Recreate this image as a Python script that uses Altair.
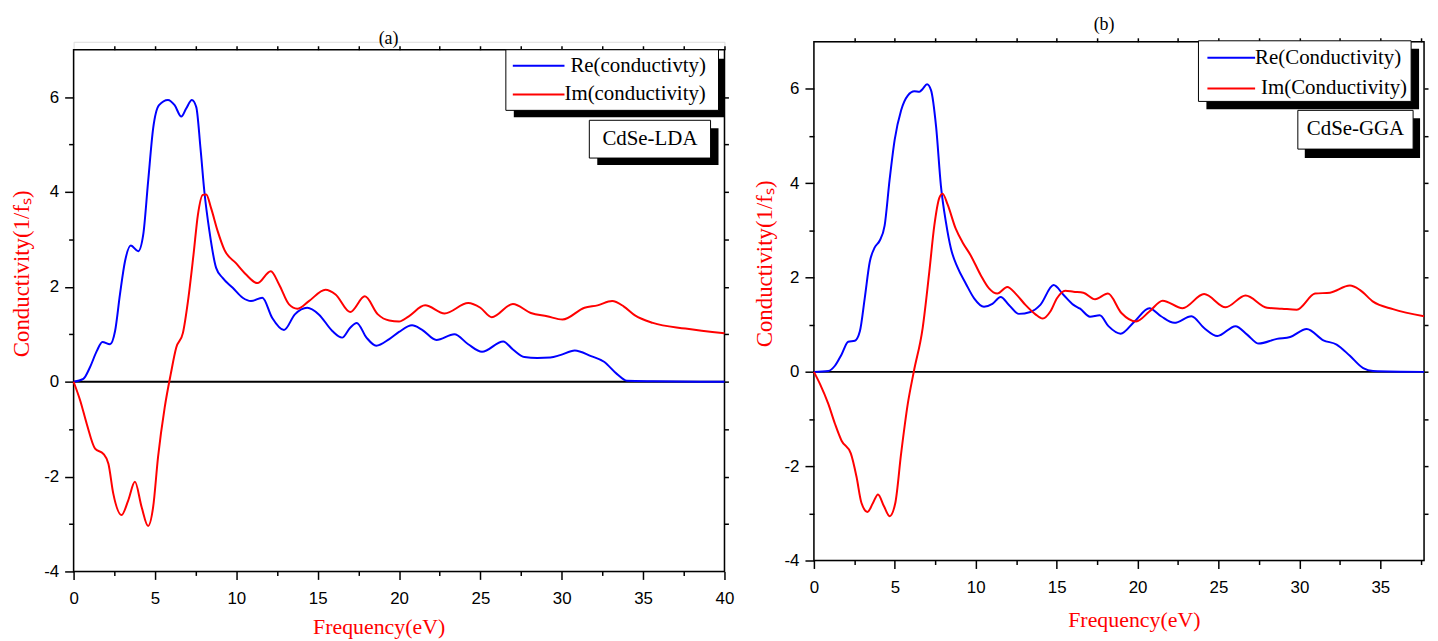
import altair as alt
import pandas as pd

SERIF = "Liberation Serif"
SANS = "Liberation Sans"

# ---------------- data ----------------
# Panel (a) CdSe-LDA
A_RE_E = [0, 0.6, 1.0, 1.43, 1.77, 2.24, 2.55, 2.85, 3.16, 3.52, 3.97, 4.28, 4.58, 4.89, 5.25, 5.8,
          6.21, 6.62, 6.92, 7.27, 7.54, 7.8, 8.04, 8.35, 8.76, 9.16, 9.78, 10.39, 10.9, 11.6, 12.2,
          12.93, 13.6, 14.36, 15.07, 15.9, 16.5, 17.0, 17.4, 18.0, 18.6, 19.4, 20.0, 20.8, 21.4,
          22.3, 23.4, 24.25, 25.1, 26.4, 27.0, 27.7, 28.5, 29.3, 29.9, 30.8, 31.8, 32.6, 33.4,
          34.0, 35.6, 40.0]
A_RE_V = [0, 0.06, 0.3, 0.65, 0.84, 0.79, 1.07, 1.84, 2.54, 2.87, 2.75, 3.1, 4.22, 5.34, 5.83, 5.94,
          5.83, 5.59, 5.76, 5.94, 5.79, 4.92, 4.0, 3.17, 2.4, 2.19, 1.98, 1.77, 1.7, 1.77, 1.35,
          1.09, 1.42, 1.56, 1.42, 1.07, 0.93, 1.14, 1.24, 0.93, 0.76, 0.9, 1.05, 1.19, 1.10,
          0.88, 1.0, 0.79, 0.63, 0.85, 0.68, 0.52, 0.5, 0.51, 0.56, 0.66, 0.54, 0.42, 0.16,
          0.02, 0.01, 0.0]
A_IM_E = [0, 0.41, 0.81, 1.32, 1.83, 2.14, 2.44, 2.95, 3.36, 3.77, 4.18, 4.58, 4.89, 5.19, 5.6,
          5.97, 6.31, 6.72, 7.03, 7.37, 7.64, 7.94, 8.15, 8.45, 8.86, 9.27, 9.98, 10.6, 11.3,
          12.12, 12.63, 13.24, 13.75, 14.46, 15.48, 16.1, 17.0, 17.9, 18.7, 19.4, 20.0, 20.6,
          21.6, 22.8, 24.25, 25.0, 25.7, 27.0, 28.1, 29.1, 30.05, 31.4, 32.2, 33.1, 33.8, 34.5,
          35.6, 37.6, 40.0]
A_IM_V = [0, -0.4, -0.89, -1.41, -1.52, -1.73, -2.36, -2.81, -2.5, -2.11, -2.64, -3.04, -2.64,
          -1.59, -0.54, 0.16, 0.72, 1.03, 1.7, 2.68, 3.52, 3.94, 3.95, 3.66, 3.17, 2.78, 2.5,
          2.26, 2.08, 2.33, 2.05, 1.63, 1.54, 1.7, 1.94, 1.84, 1.47, 1.8, 1.42, 1.29, 1.27, 1.38,
          1.61, 1.44, 1.66, 1.56, 1.36, 1.64, 1.45, 1.38, 1.31, 1.56, 1.61, 1.70, 1.59, 1.40,
          1.24, 1.12, 1.02]

# Panel (b) CdSe-GGA
B_RE_E = [0, 0.89, 1.3, 1.71, 2.12, 2.53, 2.84, 3.14, 3.45, 3.76, 4.06, 4.37, 4.68, 4.99, 5.39,
          5.8, 6.21, 6.52, 6.72, 6.99, 7.24, 7.55, 7.85, 8.16, 8.47, 8.87, 9.39, 9.9, 10.51,
          11.03, 11.54, 12.05, 12.66, 13.38, 13.99, 14.81, 15.43, 16.04, 16.45, 17.06, 17.66,
          18.2, 18.95, 19.81, 20.73, 21.45, 22.27, 23.33, 24.11, 24.93, 26.05, 26.77, 27.49,
          28.61, 29.43, 30.45, 31.48, 32.3, 33.12, 33.94, 34.55, 37.7]
B_RE_V = [0, 0.02, 0.13, 0.37, 0.64, 0.66, 0.86, 1.56, 2.33, 2.64, 2.78, 3.10, 4.08, 4.92, 5.55,
          5.86, 5.95, 5.94, 6.0, 6.1, 5.97, 5.2, 3.94, 3.17, 2.61, 2.22, 1.87, 1.56, 1.38,
          1.44, 1.59, 1.42, 1.23, 1.27, 1.42, 1.84, 1.63, 1.42, 1.34, 1.17, 1.2,
          0.97, 0.81, 1.07, 1.35, 1.18, 1.04, 1.18, 0.93, 0.76, 0.97, 0.79, 0.6,
          0.70, 0.74, 0.91, 0.67, 0.58, 0.34, 0.08, 0.02, 0.0]
B_IM_E = [0, 0.38, 0.89, 1.3, 1.71, 2.28, 2.63, 2.94, 3.31, 3.65, 3.96, 4.33, 4.68, 5.03, 5.39,
          5.8, 6.17, 6.72, 7.13, 7.44, 7.75, 7.95, 8.26, 8.77, 9.18, 9.69, 10.31, 10.82, 11.33,
          11.95, 12.46, 13.07, 13.69, 14.14, 14.61, 15.02, 15.53, 16.04, 16.65, 17.37, 18.17,
          19.0, 19.91, 20.73, 21.55, 22.78, 24.11, 25.44, 26.67, 28.0, 28.92, 29.84, 30.97,
          31.89, 33.12, 33.73, 34.55, 35.78, 37.7]
B_IM_V = [0, -0.26, -0.68, -1.1, -1.46, -1.73, -2.22, -2.78, -2.97, -2.78, -2.6, -2.85, -3.06,
          -2.78, -1.73, -0.68, 0.0, 0.93, 2.12, 3.1, 3.69, 3.78, 3.55, 3.03, 2.75, 2.47, 2.05,
          1.77, 1.66, 1.8, 1.66, 1.42, 1.22, 1.13, 1.28, 1.56, 1.72, 1.70, 1.68, 1.54, 1.66,
          1.25, 1.07, 1.28, 1.51, 1.35, 1.65, 1.37, 1.62, 1.36, 1.34, 1.32, 1.66,
          1.68, 1.83, 1.74, 1.49, 1.33, 1.18]

SERIES = ["Re", "Im"]
COLORS = ["#0000ff", "#ff0000"]

A_XMAX = 40.0
B_XMAX = 37.7
Y_MIN, Y_MAX = -4, 7

X_MAJOR_A = [0, 5, 10, 15, 20, 25, 30, 35, 40]
X_MAJOR_B = [0, 5, 10, 15, 20, 25, 30, 35]
X_MINOR_A = [2.5, 7.5, 12.5, 17.5, 22.5, 27.5, 32.5, 37.5]
X_MINOR_B = [2.5, 7.5, 12.5, 17.5, 22.5, 27.5, 32.5, 37.5]
Y_MAJOR = [-4, -2, 0, 2, 4, 6]
Y_MINOR = [-3, -1, 1, 3, 5]
Y_ALL = [-3, -2, -1, 0, 1, 2, 3, 4, 5, 6]

A_LEG = ["Re(conductivty)", "Im(conductivity)"]
B_LEG = ["Re(Conductivity)", "Im(Conductivity)"]
A_TAG = "CdSe-LDA"
B_TAG = "CdSe-GGA"
X_TITLE = "Frequency(eV)"
Y_TITLE = "Conductivity(1/fₛ)"

ONE = pd.DataFrame({"k": [0]})


def box(x1, x2, y1, y2, **mk):
    return alt.Chart(ONE).mark_rect(**mk).encode(
        x=alt.value(x1), x2=alt.value(x2), y=alt.value(y1), y2=alt.value(y2))


def hline(x1, x2, y, color):
    return alt.Chart(ONE).mark_rule(color=color, strokeWidth=2).encode(
        x=alt.value(x1), x2=alt.value(x2), y=alt.value(y))


def label(txt, x, y, size=21, align="left"):
    return alt.Chart(ONE).mark_text(text=txt, align=align, baseline="middle", font=SERIF,
                                    fontSize=size, color="black").encode(
        x=alt.value(x), y=alt.value(y))


def panel(re_e, re_v, im_e, im_v, xmax, xmaj, xmin, ytop, width, height, top_off,
          xt, yt, leg, tag, title, anchor):
    df = pd.concat([
        pd.DataFrame({"E": re_e, "v": re_v, "s": SERIES[0]}),
        pd.DataFrame({"E": im_e, "v": im_v, "s": SERIES[1]}),
    ], ignore_index=True)
    xsc = alt.Scale(domain=[0, xmax], nice=False, zero=False)
    ysc = alt.Scale(domain=[Y_MIN, ytop], nice=False, zero=False)
    common = dict(domain=False, grid=False, tickColor="black", tickWidth=1.5)

    frame_df = pd.DataFrame({"x0": [0], "x1": [xmax], "y0": [Y_MIN], "y1": [Y_MAX]})
    frame = alt.Chart(frame_df).mark_rect(fillOpacity=0, stroke="black", strokeWidth=1.5).encode(
        x=alt.X("x0:Q", scale=xsc, axis=alt.Axis(orient="top", values=xmin + xmaj[1:], labels=False,
                                                  tickSize=4, title=None, offset=top_off, **common)),
        x2="x1:Q",
        y=alt.Y("y0:Q", scale=ysc, axis=alt.Axis(orient="right", values=Y_ALL, labels=False,
                                                  tickSize=4, title=None, **common)),
        y2="y1:Q",
    )
    minor = alt.Chart(frame_df).mark_rect(opacity=0).encode(
        x=alt.X("x0:Q", scale=xsc, axis=alt.Axis(orient="bottom", values=xmin, labels=False,
                                                  tickSize=4, title=None, **common)),
        x2="x1:Q",
        y=alt.Y("y0:Q", scale=ysc, axis=alt.Axis(orient="left", values=Y_MINOR, labels=False,
                                                  tickSize=5, title=None, **common)),
        y2="y1:Q",
    )
    zero = alt.Chart(pd.DataFrame({"z": [0]})).mark_rule(color="black", strokeWidth=2).encode(
        y=alt.Y("z:Q", scale=ysc, axis=None))
    lines = alt.Chart(df).mark_line(strokeWidth=2, interpolate="monotone").encode(
        x=alt.X("E:Q", scale=xsc, axis=alt.Axis(
            orient="bottom", values=xmaj, tickSize=8, labelPadding=11, labelFont=SANS,
            labelFontSize=17, labelColor="black", labelFlush=False, labelOverlap=False,
            labelExpr="'' + datum.value", title=X_TITLE, titleFont=SERIF, titleFontSize=22,
            titleFontWeight="normal", titleColor="red", titleX=xt[0], titleY=xt[1],
            titleAlign="center", titleBaseline="middle", **common)),
        y=alt.Y("v:Q", scale=ysc, axis=alt.Axis(
            orient="left", values=Y_MAJOR, tickSize=9, labelPadding=6, labelFont=SANS,
            labelFontSize=17, labelColor="black", labelOverlap=False,
            labelExpr="'' + datum.value", title=Y_TITLE, titleFont=SERIF, titleFontSize=23,
            titleFontWeight="normal", titleColor="red", titleX=yt[0], titleY=yt[1],
            titleAngle=270, titleAlign="center", titleBaseline="middle", **common)),
        color=alt.Color("s:N", scale=alt.Scale(domain=SERIES, range=COLORS), legend=None),
    )
    (bx1, bx2, by1, by2), (sx1, sx2, sy1, sy2), (lx1, lx2, ly1, ly2), tx, \
        (tbx1, tbx2, tby1, tby2), (tsx1, tsx2, tsy1, tsy2), (tcx, tcy), (ttx, tty) = leg
    layers = [
        frame, minor, zero, lines,
        box(sx1, sx2, sy1, sy2, color="black"),
        box(bx1, bx2, by1, by2, fill="white", stroke="black", strokeWidth=1),
        hline(lx1, lx2, ly1, COLORS[0]),
        hline(lx1, lx2, ly2, COLORS[1]),
        label(title[0], tx[0], ly1),
        label(title[1], tx[1], ly2),
        box(tsx1, tsx2, tsy1, tsy2, color="black"),
        box(tbx1, tbx2, tby1, tby2, fill="white", stroke="black", strokeWidth=1),
        label(tag, tcx, tcy, align="center"),
        label(title[2], ttx, tty, size=18, align="center"),
    ]
    if anchor:
        layers.append(alt.Chart(ONE).mark_rule(opacity=0).encode(
            x=alt.value(anchor[0]), x2=alt.value(anchor[0]),
            y=alt.value(anchor[1]), y2=alt.value(anchor[1] + 1)))
    return alt.layer(*layers).resolve_axis(x="independent", y="independent").properties(
        width=width, height=height)


# panel (a): plot top extended by 8 px so both panels share the same group top
A_H_FRAME = 525
A_GAP = 8
A_YTOP = Y_MAX + A_GAP * (Y_MAX - Y_MIN) / A_H_FRAME

pa = panel(A_RE_E, A_RE_V, A_IM_E, A_IM_V, A_XMAX, X_MAJOR_A, X_MINOR_A, A_YTOP, 655,
           A_H_FRAME + A_GAP, -A_GAP, (307, 55), (-52, 233),
           ((435, 649, 8, 69), (443, 655, 17, 76), (442, 494, 24, 53), (500, 494),
            (519, 641, 79, 117), (527, 649, 87, 124), (580, 98), (317, -3)),
           A_TAG, A_LEG + ["(a)"], (-65, -31))
pb = panel(B_RE_E, B_RE_V, B_IM_E, B_IM_V, B_XMAX, X_MAJOR_B, X_MINOR_B, Y_MAX, 614, 522, 0,
           (322, 59), (-50, 223),
           ((387, 601, -1, 60), (395, 609, 7, 68), (396, 444, 16, 47), (444, 450),
            (487, 603, 69, 108), (494, 610, 77, 117), (545, 88), (292, -17)),
           B_TAG, B_LEG + ["(b)"], None)

chart = alt.hconcat(pa, pb, spacing=90, bounds="flush").properties(padding=0).configure_view(
    strokeWidth=0).configure(background="white")

chart.save("out.html", embed_options={"renderer": "svg", "actions": False})
